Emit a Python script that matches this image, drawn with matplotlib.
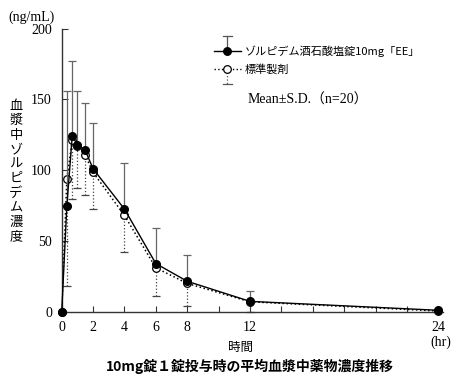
import matplotlib
matplotlib.use("Agg")
import matplotlib.pyplot as plt
from matplotlib.lines import Line2D
from matplotlib.legend_handler import HandlerBase

# data
hours = [0, 0.33, 0.67, 1, 1.5, 2, 4, 6, 8, 12, 24]
test_mean = [0, 75, 124, 118, 114, 101, 72.5, 34, 21.5, 7.3, 1]
test_sd = [0, 81, 53, 38, 33.5, 32.5, 32.5, 25.5, 18.8, 7.5, 0.5]
std_mean = [0, 94, 121, 117, 110.5, 98.5, 68, 31, 20, 7, 0.5]
std_sd = [0, 75.6, 41.4, 29.8, 28.2, 26, 26, 19.7, 16.2, 7, 0.5]

test_label = "ゾルピデム酒石酸塩錠10mg「EE」"
std_label = "標準製剤"
ylabel_text = "血漿中ゾルピデム濃度"
title_text = "10mg錠１錠投与時の平均血漿中薬物濃度推移"
xtick_labels = [0, 2, 4, 6, 8, 12, 24]

SERIF = ["Liberation Serif", "Noto Sans CJK JP"]
CJK = ["Noto Sans CJK JP", "DejaVu Sans"]


# legend key: line + marker + half error bar (up or down)
class HalfBarHandler(HandlerBase):
    def create_artists(self, legend, orig_handle, xdescent, ydescent,
                       width, height, fontsize, trans):
        ls, face, up, bar_ls = orig_handle.spec
        cx = width / 2 - xdescent
        cy = height / 2 - ydescent
        dy = 11 if up else -11
        line = Line2D([-xdescent, width - xdescent], [cy, cy], color="black",
                      lw=1, linestyle=ls, transform=trans)
        bar = Line2D([cx, cx], [cy, cy + dy], color="#555555", lw=0.9,
                     linestyle=bar_ls, transform=trans)
        cap = Line2D([cx - 3, cx + 3], [cy + dy, cy + dy], color="#555555",
                     lw=0.9, transform=trans)
        mk = Line2D([cx], [cy], marker="o", markersize=5.5, color="black",
                    markerfacecolor=face, markeredgewidth=0.9, linestyle="none",
                    transform=trans)
        return [line, bar, cap, mk]


class Key:
    def __init__(self, spec):
        self.spec = spec


fig = plt.figure(figsize=(4.59, 3.78), dpi=100)
ax = fig.add_axes([61.7 / 459, 1 - 311.7 / 378, 381.3 / 459, 283 / 378])

# standard formulation: dotted line, lower SD bars
eb2 = ax.errorbar(hours, std_mean, yerr=[std_sd, [0] * len(hours)], fmt="o",
                  color="black", ecolor="#444444", elinewidth=0.9, capsize=3,
                  capthick=0.9, markersize=5.5, markerfacecolor="white",
                  markeredgewidth=0.9, zorder=2, clip_on=False)
eb2[2][0].set_linestyle(":")
ax.plot(hours, std_mean, linestyle=":", color="black", lw=1.1, zorder=2)

# test formulation: solid line, upper SD bars
ax.errorbar(hours, test_mean, yerr=[[0] * len(hours), test_sd], fmt="o-",
            color="black", ecolor="#666666", elinewidth=0.9, capsize=3,
            capthick=0.9, markersize=5.5, lw=1, zorder=3, clip_on=False)

ax.set_xlim(0, 24.3)
ax.set_ylim(0, 200)
ax.set_xticks(range(0, 25, 2))
ax.set_xticklabels([str(t) if t in xtick_labels else "" for t in range(0, 25, 2)])
ax.set_yticks([0, 50, 100, 150, 200])
ax.spines["top"].set_visible(False)
ax.spines["right"].set_visible(False)
for s in ("left", "bottom"):
    ax.spines[s].set_linewidth(1)
    ax.spines[s].set_color("#333333")
ax.tick_params(direction="in", length=4, width=0.8, color="#333333",
               labelsize=10, pad=7)
for lab in ax.get_xticklabels() + ax.get_yticklabels():
    lab.set_family(SERIF)

# legend
leg = ax.legend([Key(("-", "black", True, "-")), Key((":", "white", False, ":"))],
                [test_label, std_label],
                handler_map={Key: HalfBarHandler()},
                loc="upper left", bbox_to_anchor=(208 / 459, 1 - 40 / 378),
                bbox_transform=fig.transFigure, frameon=False,
                prop={"family": CJK, "size": 8}, handlelength=2.5,
                handletextpad=0.3, labelspacing=0.6, borderpad=0)

fig.text(248 / 459, 1 - 100 / 378, "Mean±S.D.（n=20）", family=SERIF,
         fontsize=10, va="center", ha="left")
fig.text(8 / 459, 1 - 17 / 378, "(ng/mL)", family=SERIF, fontsize=10,
         va="center", ha="left")
fig.text(430 / 459, 1 - 342 / 378, "(hr)", family=SERIF, fontsize=10,
         va="center", ha="left")

for i, ch in enumerate(ylabel_text):
    fig.text(16 / 459, 1 - (106 + i * 14.5) / 378, ch, family=CJK,
             fontsize=9.5, ha="center", va="center")

fig.text(241 / 459, 1 - 347 / 378, "時間", family=CJK, fontsize=9,
         ha="center", va="center")
fig.text(250 / 459, 1 - 366 / 378, title_text, family=CJK, fontsize=10,
         fontweight="bold", ha="center", va="center")

fig.savefig("out.png", dpi=100)
